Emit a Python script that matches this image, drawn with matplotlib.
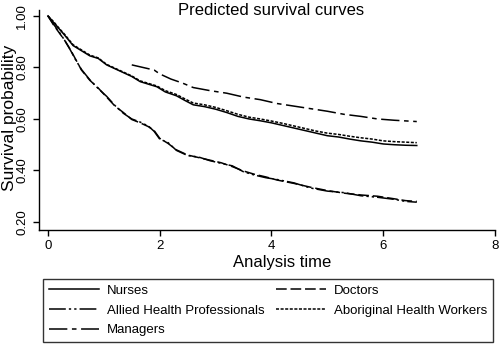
import matplotlib
matplotlib.use("Agg")
import matplotlib.pyplot as plt

plt.rcParams['font.family'] = ['Liberation Sans', 'DejaVu Sans']

# Kaplan-Meier style predicted survival
t_nurses = [0, 0.1, 0.2, 0.3, 0.45, 0.6, 0.75, 0.9, 1.05, 1.2, 1.35, 1.5, 1.65, 1.8, 1.95, 2.1, 2.3, 2.45, 2.6,
            2.8, 3.0, 3.2, 3.4, 3.6, 3.8, 4.0, 4.2, 4.4, 4.6, 4.8, 5.0, 5.2, 5.4, 5.6, 5.8, 6.0, 6.2, 6.4, 6.6]
s_nurses = [1.0, .975, .95, .925, .885, .865, .845, .835, .81, .795, .78, .765, .745, .735, .725, .705, .69, .672,
            .655, .648, .638, .625, .61, .6, .593, .585, .575, .565, .555, .545, .535, .53, .522, .515, .51, .503,
            .50, .498, .497]
s_aborig = [1.0, .978, .952, .928, .888, .868, .848, .837, .812, .797, .782, .767, .748, .738, .728, .71, .695, .678,
            .662, .655, .645, .632, .618, .607, .6, .592, .583, .573, .563, .553, .545, .54, .533, .527, .522, .515,
            .512, .51, .508]

t_doctors = [0, 0.1, 0.2, 0.3, 0.4, 0.5, 0.6, 0.75, 0.9, 1.05, 1.2, 1.35, 1.5, 1.65, 1.8, 1.9, 2.0, 2.15, 2.3, 2.5,
             2.7, 2.9, 3.1, 3.3, 3.5, 3.7, 3.9, 4.1, 4.4, 4.7, 5.0, 5.3, 5.6, 5.9, 6.2, 6.4, 6.6]
s_doctors = [1.0, .965, .935, .905, .87, .83, .79, .75, .72, .685, .65, .625, .598, .585, .57, .555, .525, .505, .48,
             .46, .45, .44, .43, .415, .398, .385, .375, .363, .35, .335, .322, .312, .305, .3, .29, .283, .28]
s_allied = [1.0, .968, .938, .905, .868, .828, .792, .752, .718, .688, .652, .622, .6, .588, .572, .552, .522, .508,
            .478, .458, .452, .438, .428, .418, .395, .382, .372, .365, .352, .332, .32, .314, .302, .296, .288, .28,
            .277]

t_managers = [1.5, 1.7, 1.9, 2.0, 2.2, 2.4, 2.6, 2.9, 3.2, 3.5, 3.8, 4.1, 4.4, 4.7, 5.0, 5.3, 5.6, 5.9, 6.2, 6.6]
s_managers = [.81, .80, .79, .775, .755, .74, .722, .71, .70, .685, .675, .66, .65, .64, .63, .618, .61, .60, .595,
              .59]

fig = plt.figure(figsize=(5.0, 3.44), dpi=100)
ax = fig.add_axes([0.078, 0.3314, 0.912, 0.6395])

lw = 1.1
l_nur, = ax.plot(t_nurses, s_nurses, color='black', lw=lw, label='Nurses')
l_all, = ax.plot(t_doctors, s_allied, color='black', lw=lw,
                 dashes=(11, 2, 1.5, 2, 1.5, 2), label='Allied Health Professionals')
l_man, = ax.plot(t_managers, s_managers, color='black', lw=lw,
                 dashes=(12, 3, 3, 3), label='Managers')
l_doc, = ax.plot(t_doctors, s_doctors, color='black', lw=lw,
                 dashes=(7, 2.5), label='Doctors')
l_abo, = ax.plot(t_nurses, s_aborig, color='black', lw=lw,
                 dashes=(2, 1), label='Aboriginal Health Workers')

ax.set_xlim(-0.16, 8.0)
ax.set_ylim(0.169, 1.023)
ax.set_xticks([0, 2, 4, 6, 8])
ax.set_yticks([0.2, 0.4, 0.6, 0.8, 1.0])
ax.set_yticklabels(['0.20', '0.40', '0.60', '0.80', '1.00'], rotation=90, va='center', ha='center')
ax.tick_params(direction='out', length=4, width=1, labelsize=9.5, pad=3)
ax.tick_params(axis='y', pad=8)
for side in ['top', 'right']:
    ax.spines[side].set_visible(False)
for side in ['left', 'bottom']:
    ax.spines[side].set_linewidth(1.0)

fig.text(0.542, 0.99, 'Predicted survival curves', ha='center', va='top', fontsize=12)
fig.text(0.564, 0.238, 'Analysis time', ha='center', va='center', fontsize=12)
fig.text(0.019, 0.657, 'Survival probability', ha='center', va='center', rotation=90, fontsize=12.5)

leg = fig.legend(handles=[l_nur, l_all, l_man, l_doc, l_abo], ncol=2,
                 loc='lower left', bbox_to_anchor=(0.086, 0.006, 0.9, 0.177), mode='expand',
                 fontsize=9.5, frameon=True, fancybox=False, edgecolor='black',
                 handlelength=3.8, handletextpad=0.6, labelspacing=0.58, borderpad=0.42,
                 columnspacing=1.0, borderaxespad=0)
leg.get_frame().set_linewidth(1.0)

fig.savefig('out.png', dpi=100)
